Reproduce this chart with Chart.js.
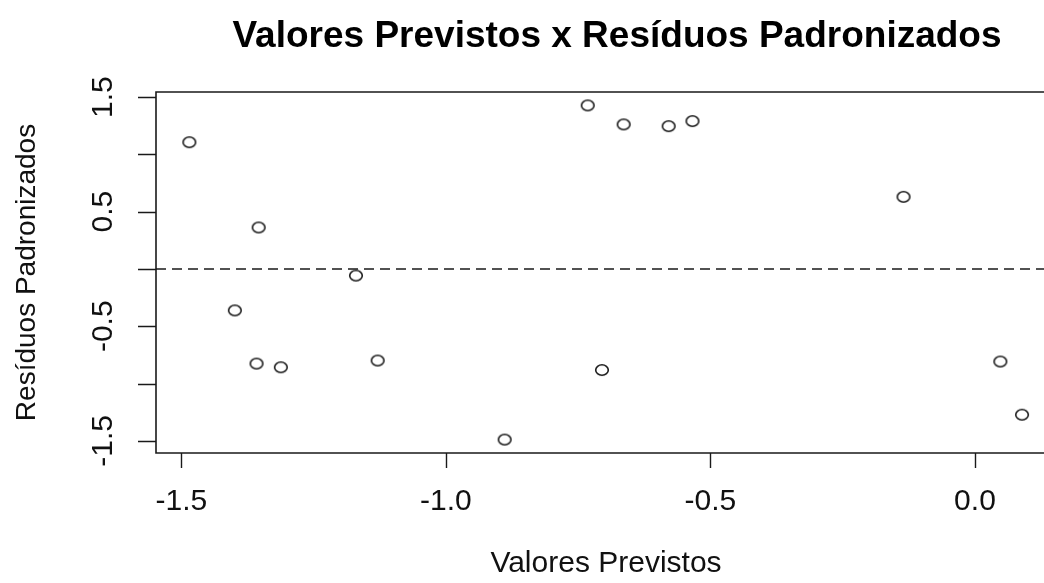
<!DOCTYPE html>
<html>
<head>
<meta charset="utf-8">
<script src="https://cdn.jsdelivr.net/npm/chart.js@4"></script>
<style>
  html, body { margin: 0; padding: 0; background: #ffffff; }
  #wrap { width: 1044px; height: 583px; }
</style>
</head>
<body>
<div id="wrap"><canvas id="c" width="1044" height="583"></canvas></div>
<script>
// Predicted values (x) and standardized residuals (y)
const predicted = [-1.485, -1.354, -1.170, -1.399, -1.358, -1.312, -1.129, -0.732,
                   -0.664, -0.579, -0.534, -0.705, -0.889, -0.135, 0.048, 0.089];
const residuals = [1.106, 0.362, -0.058, -0.362, -0.826, -0.858, -0.799, 1.427,
                   1.261, 1.246, 1.290, -0.882, -1.489, 0.629, -0.808, -1.272];

const xTickValues = [-1.5, -1.0, -0.5, 0.0];
const xTickLabels = ['-1.5', '-1.0', '-0.5', '0.0'];
const yTickValues = [-1.5, -1.0, -0.5, 0.0, 0.5, 1.0, 1.5];
const yTickLabels = ['-1.5', '', '-0.5', '', '0.5', '', '1.5'];
const referenceLevel = 0;

const titleText = 'Valores Previstos x Resíduos Padronizados';
const xTitle = 'Valores Previstos';
const yTitle = 'Resíduos Padronizados';

const X_MIN = -1.548, X_MAX = 0.1305;
const Y_MIN = -1.606, Y_MAX = 1.544;
const INK = '#1a1a1a';
const FONT = '"Liberation Sans", Arial, Helvetica, sans-serif';

// open ring marker, slightly wider than tall
function ringMarker() {
  const c = document.createElement('canvas');
  c.width = 18; c.height = 16;
  const g = c.getContext('2d');
  g.strokeStyle = INK;
  g.lineWidth = 1.6;
  g.beginPath();
  g.ellipse(9, 8, 6.3, 5.2, 0, 0, Math.PI * 2);
  g.stroke();
  return c;
}

const points = predicted.map((x, i) => ({ x: x, y: residuals[i] }));

// R-style frame, ticks and labels
const baseAxes = {
  id: 'baseAxes',
  afterDraw(chart) {
    const ctx = chart.ctx;
    const a = chart.chartArea;
    const xs = chart.scales.x, ys = chart.scales.y;
    ctx.save();
    ctx.strokeStyle = INK;
    ctx.lineWidth = 1.6;
    ctx.beginPath();
    ctx.moveTo(chart.width, a.top);
    ctx.lineTo(a.left, a.top);
    ctx.lineTo(a.left, a.bottom);
    ctx.lineTo(chart.width, a.bottom);
    ctx.stroke();

    ctx.lineWidth = 1.4;
    ctx.beginPath();
    xTickValues.forEach(v => {
      const px = Math.round(xs.getPixelForValue(v)) + 0.5;
      ctx.moveTo(px, a.bottom);
      ctx.lineTo(px, a.bottom + 15);
    });
    yTickValues.forEach(v => {
      const py = Math.round(ys.getPixelForValue(v)) + 0.5;
      ctx.moveTo(a.left, py);
      ctx.lineTo(a.left - 18, py);
    });
    ctx.stroke();

    ctx.fillStyle = '#111';
    ctx.font = '30px ' + FONT;
    ctx.textAlign = 'center';
    ctx.textBaseline = 'alphabetic';
    xTickValues.forEach((v, i) => {
      ctx.fillText(xTickLabels[i], xs.getPixelForValue(v), 510);
    });
    yTickValues.forEach((v, i) => {
      if (!yTickLabels[i]) return;
      ctx.save();
      ctx.translate(112, ys.getPixelForValue(v));
      ctx.rotate(-Math.PI / 2);
      ctx.fillText(yTickLabels[i], 0, 0);
      ctx.restore();
    });

    ctx.fillText(xTitle, 606, 572);
    ctx.save();
    ctx.font = '28px ' + FONT;
    ctx.translate(35, (a.top + a.bottom) / 2);
    ctx.rotate(-Math.PI / 2);
    ctx.fillText(yTitle, 0, 0);
    ctx.restore();

    ctx.fillStyle = '#000';
    ctx.font = 'bold 37px ' + FONT;
    ctx.fillText(titleText, 617, 47);
    ctx.restore();
  }
};

new Chart(document.getElementById('c'), {
  type: 'scatter',
  data: {
    datasets: [
      {
        type: 'line',
        data: [{ x: X_MIN, y: referenceLevel }, { x: X_MAX, y: referenceLevel }],
        borderColor: INK,
        borderWidth: 1.6,
        borderDash: [10, 6],
        pointRadius: 0,
        fill: false,
        order: 2
      },
      {
        data: points,
        pointStyle: ringMarker(),
        pointRadius: 6,
        order: 1
      }
    ]
  },
  options: {
    responsive: false,
    animation: false,
    devicePixelRatio: 1,
    layout: { autoPadding: false, padding: { left: 156, top: 92, right: 0, bottom: 130 } },
    scales: {
      x: { type: 'linear', display: false, min: X_MIN, max: X_MAX },
      y: { type: 'linear', display: false, min: Y_MIN, max: Y_MAX }
    },
    plugins: { legend: { display: false }, tooltip: { enabled: false } }
  },
  plugins: [baseAxes]
});
</script>
</body>
</html>
